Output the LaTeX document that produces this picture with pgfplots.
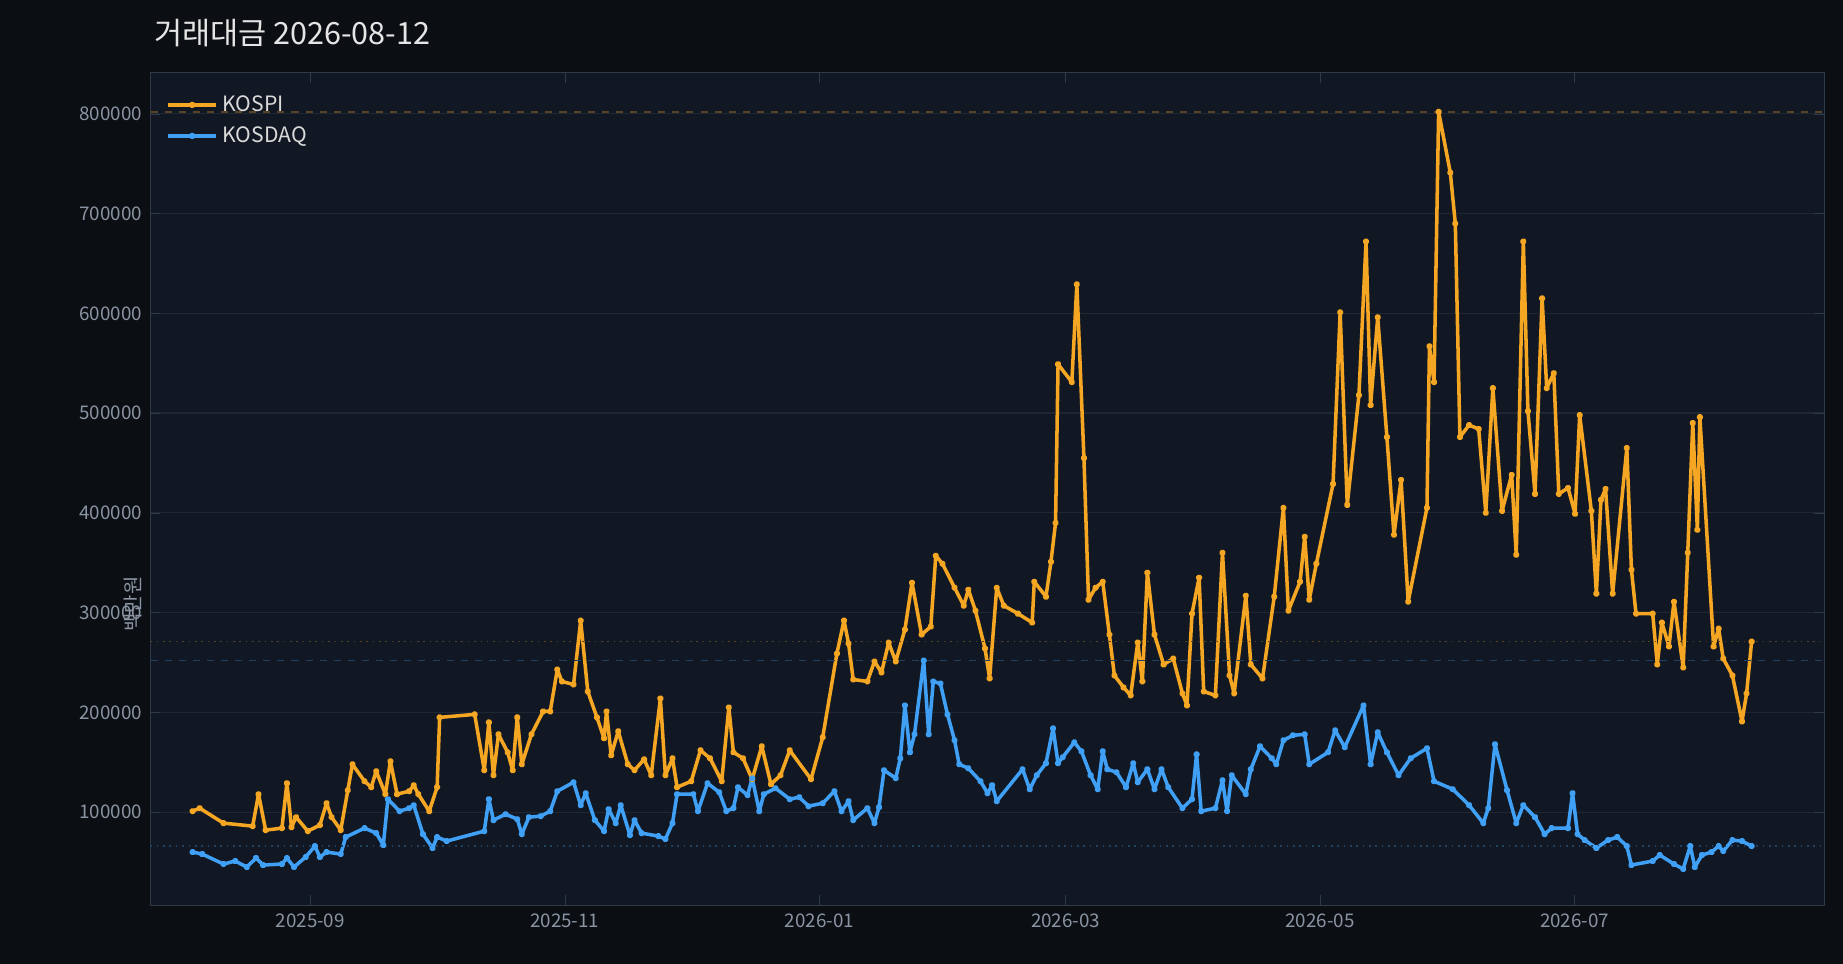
\documentclass[border=0pt]{standalone}
\usepackage{pgfplots}
\pgfplotsset{compat=1.18}
\usepackage{fontspec}
\setmainfont{Noto Sans CJK KR}
\definecolor{bgc}{HTML}{0B0E13}
\definecolor{axbg}{HTML}{111823}
\definecolor{gridc}{HTML}{1E2733}
\definecolor{framec}{HTML}{2E3A48}
\definecolor{tickc}{HTML}{8A94A3}
\definecolor{kospi}{HTML}{F5A623}
\definecolor{kosdaq}{HTML}{3FA0F5}
\begin{document}
\begin{tikzpicture}
\fill[bgc] (0,0) rectangle (784pt,410pt);
\node[anchor=west,text=white!90!black,font=\fontsize{13}{15}\selectfont] at (62pt,396pt) {거래대금 2026-08-12};
\begin{axis}[at={(64pt,25pt)},anchor=south west,scale only axis,width=712pt,height=354pt,
  xmin=-38.3,xmax=362.8,ymin=6.9,ymax=841,
  axis background/.style={fill=axbg},
  axis line style={framec},
  xtick={0,61,122,181,242,303},
  xticklabels={2025-09,2025-11,2026-01,2026-03,2026-05,2026-07},
  ytick={100,200,300,400,500,600,700,800},
  yticklabel={\pgfmathprintnumber[fixed,int detect]{\tick}000},
  /pgf/number format/assume math mode=true,
  tick label style={text=tickc,font=\fontsize{8}{9}\selectfont},
  tick style={framec},
  ymajorgrids, grid style={gridc,line width=0.5pt},
  ylabel={백만원}, ylabel style={text=tickc,font=\fontsize{8.5}{10}\selectfont,at={(axis description cs:0,0.5)},anchor=south,xshift=-49pt},
  legend style={at={(0.005,0.985)},anchor=north west,fill=none,draw=none,text=white!85!black,font=\fontsize{9}{11}\selectfont,row sep=1pt},
  legend image post style={xscale=1.2},
  legend cell align=left,
  every axis plot/.append style={line width=1.5pt,mark=*,mark size=0.7pt,line join=round},
]
\addplot[kospi] coordinates {
(-28.2,101)(-26.5,104)(-20.8,89)(-13.8,86)(-12.4,118)(-10.7,82)(-6.8,84)(-5.6,129)(-4.5,85)(-3.4,95)(-0.6,81)(2.3,87)(3.9,109)(5.1,95)(7.3,82)(9.0,122)(10.1,148)(13.0,131)(14.6,125)(15.8,141)(18.0,118)(19.2,151)(20.8,118)(23.7,121)(24.8,127)(25.9,118)(28.5,101)(30.4,125)(31.0,195)(39.4,198)(41.7,142)(42.8,190)(43.9,137)(45.1,178)(47.3,160)(48.5,142)(49.6,195)(50.7,148)(53.0,178)(55.8,201)(57.5,201)(59.2,243)(60.3,231)(63.1,228)(64.8,292)(66.5,221)(68.7,195)(70.4,174)(71.0,201)(72.1,157)(73.8,181)(76.1,148)(77.7,142)(80.0,153)(81.7,137)(83.9,214)(85.1,137)(86.8,154)(87.9,125)(91.3,131)(93.5,162)(95.8,154)(98.6,131)(100.3,205)(101.4,160)(103.7,154)(105.9,133)(108.2,166)(110.4,128)(112.7,137)(114.9,162)(120.0,133)(122.8,175)(126.2,259)(127.9,292)(129.0,269)(130.1,233)(133.5,231)(135.2,251)(136.9,240)(138.6,270)(140.3,251)(142.5,283)(144.2,330)(146.5,278)(148.7,286)(149.9,357)(151.5,349)(154.4,325)(156.6,307)(157.7,323)(159.4,302)(161.7,264)(162.8,234)(164.5,325)(166.2,307)(169.6,299)(173.0,290)(173.5,331)(176.3,316)(177.5,351)(178.6,390)(179.2,549)(182.5,531)(183.7,629)(185.4,455)(186.5,313)(188.2,325)(189.9,331)(191.5,278)(192.7,237)(194.9,225)(196.6,217)(198.3,270)(199.4,231)(200.6,340)(202.3,278)(204.5,248)(206.8,254)(209.0,219)(210.1,207)(211.3,299)(213.0,335)(214.1,221)(216.9,217)(218.6,360)(220.3,237)(221.4,219)(224.2,317)(225.4,248)(228.2,234)(231.0,316)(233.2,405)(234.4,302)(237.2,331)(238.3,376)(239.4,313)(241.1,349)(245.1,429)(246.8,601)(248.5,408)(251.3,518)(253.0,672)(254.1,508)(255.8,596)(258.0,476)(259.7,378)(261.4,433)(263.1,311)(267.6,405)(268.2,567)(269.3,531)(270.4,802)(273.2,741)(274.4,690)(275.5,476)(277.7,488)(280.0,484)(281.7,400)(283.4,525)(285.6,402)(287.9,438)(289.0,358)(290.7,672)(291.8,502)(293.5,419)(295.2,615)(296.3,525)(298.0,540)(299.2,419)(301.4,425)(303.1,399)(304.2,498)(307.0,402)(308.2,319)(309.3,413)(310.4,424)(312.1,319)(315.5,465)(316.6,343)(317.7,299)(321.7,299)(322.8,248)(323.9,290)(325.6,266)(326.8,311)(329.0,245)(330.1,360)(331.3,490)(332.4,383)(333.0,496)(336.3,266)(337.5,284)(338.6,254)(340.8,237)(343.1,191)(344.2,219)(345.4,271)};
\addlegendentry{KOSPI}
\addplot[kosdaq] coordinates {
(-28.2,60)(-25.9,58)(-20.8,48)(-18.0,51)(-15.2,45)(-13.0,54)(-11.3,47)(-6.8,48)(-5.6,54)(-3.9,45)(-1.1,55)(1.1,66)(2.3,55)(3.9,60)(7.3,58)(8.5,75)(13.0,84)(15.8,79)(17.5,67)(18.6,113)(21.4,101)(23.7,104)(24.8,107)(27.0,78)(29.3,64)(30.4,75)(32.7,71)(41.7,81)(42.8,113)(43.9,92)(46.8,98)(49.6,93)(50.7,78)(52.4,95)(55.2,96)(57.5,101)(59.2,121)(63.1,130)(64.8,107)(66.0,119)(68.2,92)(70.4,81)(71.5,103)(73.2,89)(74.4,107)(76.6,77)(77.7,92)(79.4,79)(83.4,76)(85.1,73)(86.8,89)(87.9,118)(91.8,118)(92.9,101)(95.2,129)(98.0,120)(99.7,101)(101.4,104)(102.5,125)(104.8,117)(105.9,134)(107.6,101)(108.7,118)(111.5,124)(114.9,113)(117.2,115)(119.4,106)(122.8,109)(125.6,121)(127.3,101)(129.0,111)(130.1,92)(133.5,104)(135.2,89)(136.3,105)(137.5,142)(140.3,134)(141.4,154)(142.5,207)(143.7,160)(144.8,178)(147.0,252)(148.2,178)(149.3,231)(151.0,229)(152.7,198)(154.4,172)(155.5,148)(157.7,144)(160.6,131)(162.3,119)(163.4,127)(164.5,111)(170.7,143)(172.4,123)(174.1,137)(176.3,149)(178.0,184)(179.2,149)(180.3,155)(183.1,170)(184.8,161)(187.0,137)(188.7,123)(189.9,161)(191.0,143)(193.2,140)(195.5,125)(197.2,149)(198.3,130)(200.6,143)(202.3,123)(204.0,143)(205.6,125)(209.0,104)(211.3,113)(212.4,158)(213.5,101)(216.9,104)(218.6,132)(219.7,101)(220.8,137)(224.2,118)(225.4,143)(227.6,166)(230.4,154)(231.5,148)(233.2,172)(235.5,177)(238.3,178)(239.4,148)(243.9,160)(245.6,182)(247.9,165)(252.4,207)(254.1,148)(255.8,180)(258.0,160)(260.8,137)(263.7,154)(267.6,164)(269.3,131)(273.8,123)(277.7,107)(281.1,89)(282.3,104)(283.9,168)(286.8,122)(289.0,89)(290.7,107)(293.5,95)(295.8,78)(297.5,84)(301.4,84)(302.5,119)(303.7,78)(305.4,72)(308.2,64)(311.0,72)(313.2,75)(315.5,66)(316.6,47)(321.7,51)(323.4,57)(326.8,48)(329.0,43)(330.7,66)(331.8,45)(333.5,57)(335.8,60)(337.5,66)(338.6,61)(340.8,72)(343.1,71)(345.4,66)};
\addlegendentry{KOSDAQ}
\addplot[kospi!30!axbg,line width=0.7pt,dashed,mark=none,forget plot] coordinates {(-38.3,802)(362.8,802)};
\addplot[kospi!30!axbg,line width=0.7pt,dotted,mark=none,forget plot] coordinates {(-38.3,271)(362.8,271)};
\addplot[kosdaq!30!axbg,line width=0.7pt,dashed,mark=none,forget plot] coordinates {(-38.3,252)(362.8,252)};
\addplot[kosdaq!30!axbg,line width=0.7pt,dotted,mark=none,forget plot] coordinates {(-38.3,66)(362.8,66)};
\end{axis}
\end{tikzpicture}
\end{document}
